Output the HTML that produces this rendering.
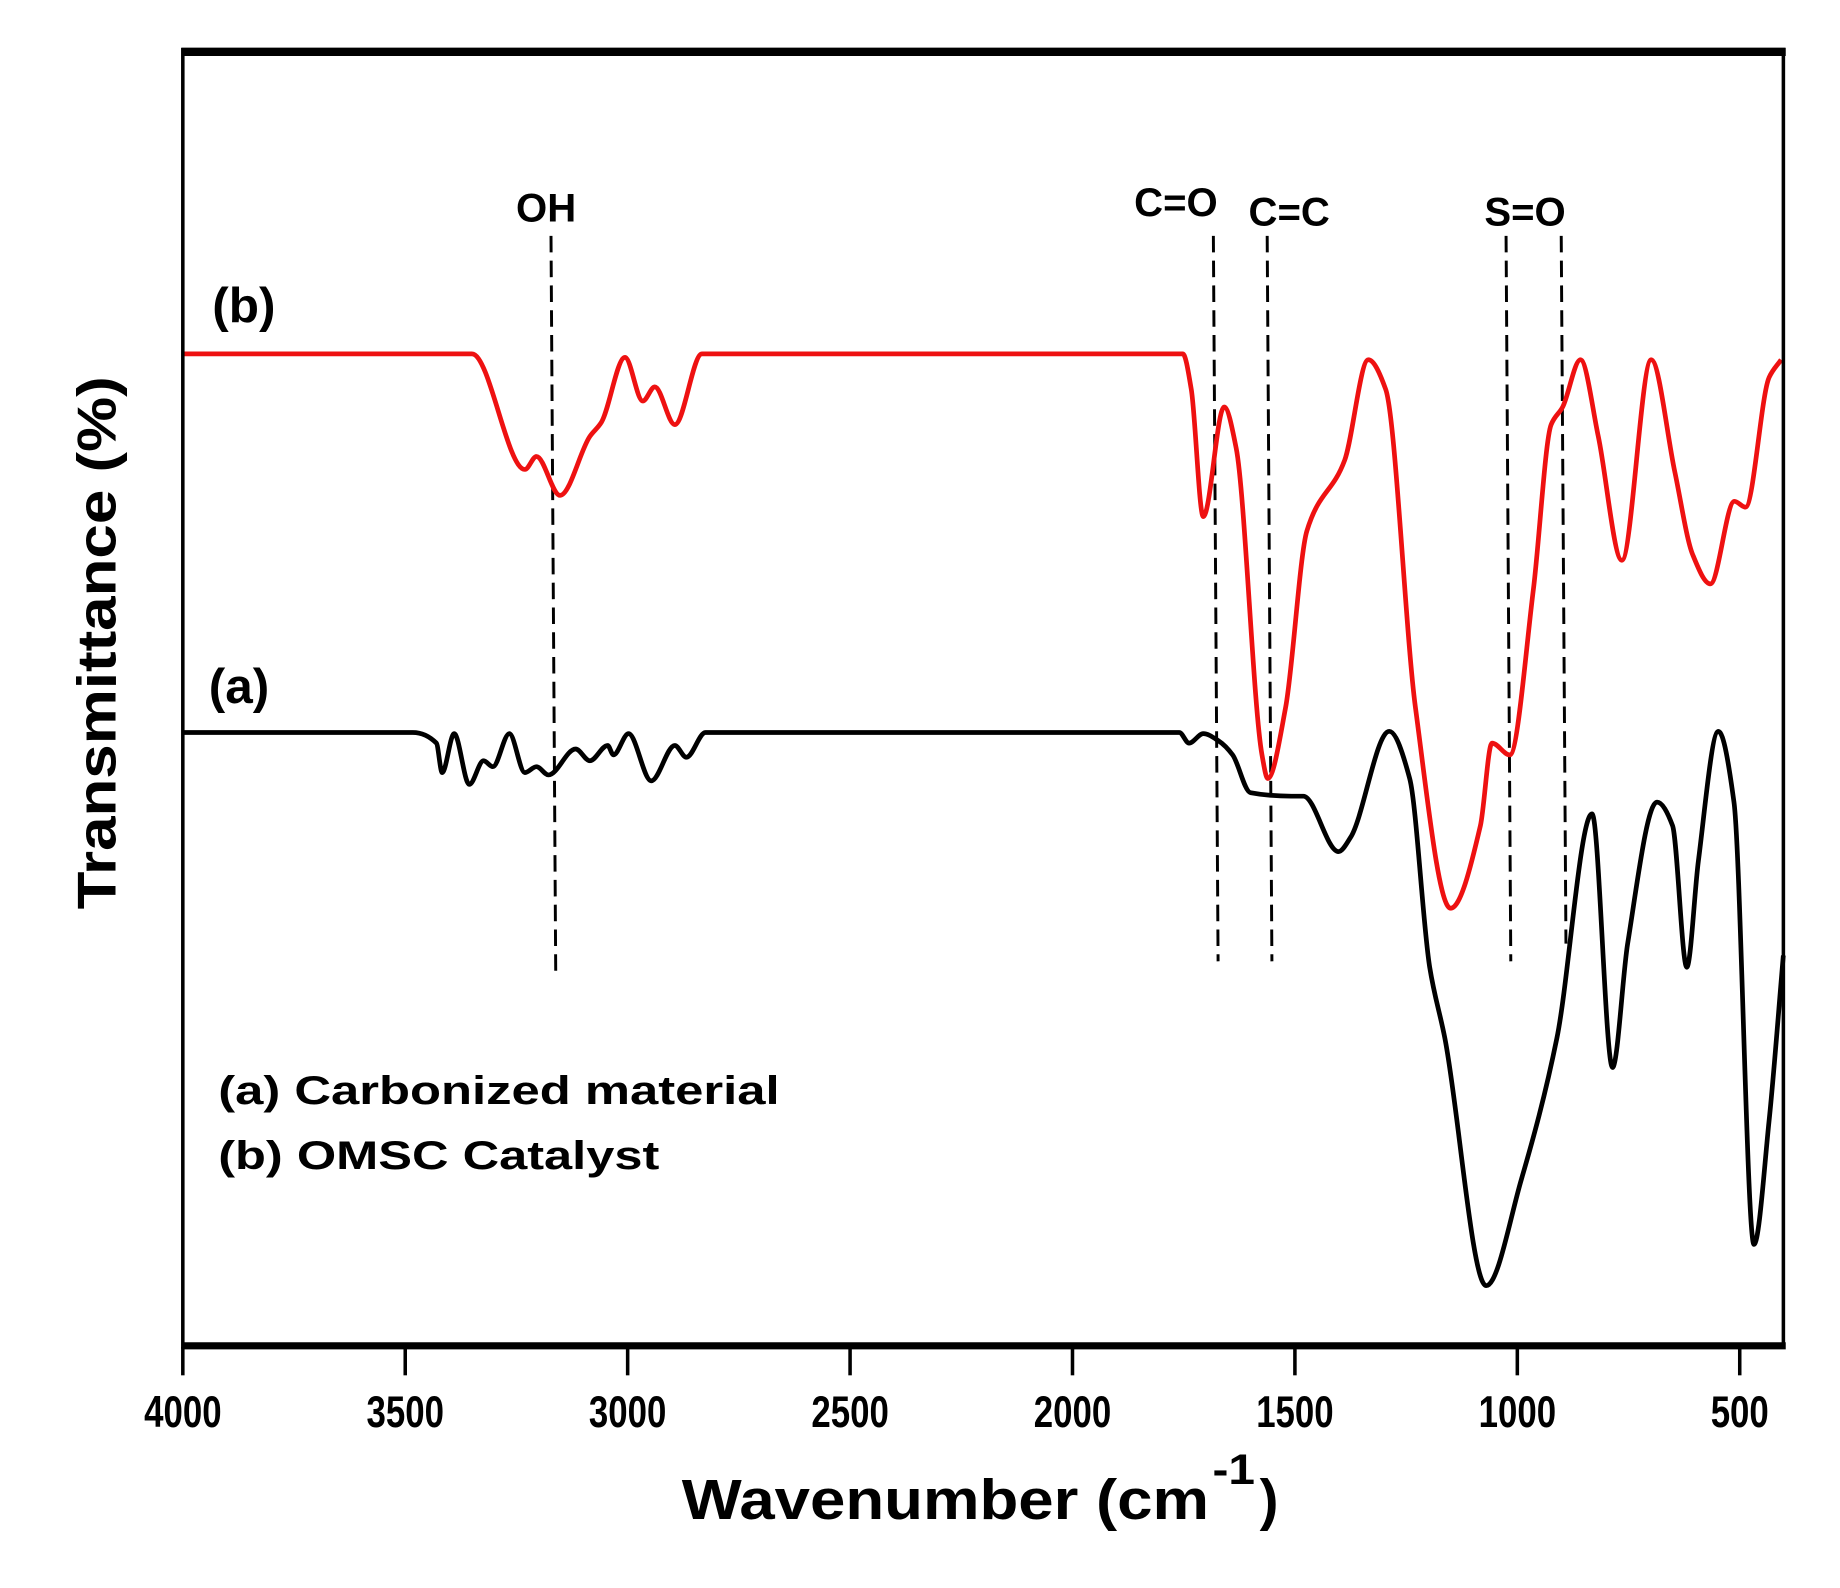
<!DOCTYPE html>
<html><head><meta charset="utf-8"><style>
html,body{margin:0;padding:0;background:#fff;}
svg{display:block;}
text{font-family:"Liberation Sans",sans-serif;font-weight:bold;fill:#000;}
</style></head><body>
<svg id="chart" width="1840" height="1588" viewBox="0 0 1560 1346.3" preserveAspectRatio="none" xmlns="http://www.w3.org/2000/svg">
<g id="plot"></g>
</svg>
<script>
const xTicks = [4000, 3500, 3000, 2500, 2000, 1500, 1000, 500];
const wnA = [4000,3483,3430,3417,3390,3356,3324,3303,3266,3231,3205,3178,3117,3085,3045,3032,2998,2947,2894,2868,2825,1760,1738,1706,1672,1640,1600,1508,1481,1402,1375,1288,1242,1197,1163,1070,991,911,832,786,752,686,651,619,593,548,513,468,434,402];
const tA = [521,521,512,487,520,477,497,492,520,487,492,485,507,497,510,502,520,480,510,500,521,521,512,520,514,502,470,467,467,420,432,522,482,322,262,52,142,262,452,237,342,462,442,322,412,522,462,87,192,332];
const wnB = [4000,3350,3231,3205,3152,3085,3059,3006,2966,2939,2894,2833,1752,1733,1706,1659,1632,1574,1561,1521,1473,1388,1335,1296,1229,1150,1083,1057,1017,964,924,898,858,818,765,699,646,606,566,512,487,434,407];
const tB = [842,842,744,755,722,772,784,839,802,814,782,842,842,812,704,797,762,502,482,542,692,752,837,812,542,372,442,512,502,642,782,797,837,772,667,837,742,672,647,717,712,822,837];
const markers = ["OH","C=O","C=C","S=O",""];
const markerWn = [3167,1678,1557,1020,896];

const NS = "http://www.w3.org/2000/svg";
const L = 155, R = 1512, T = 42, B = 1142;
const X = wn => L + (4000 - wn) * (1475 - 155) / 3500;
const Y = v => B - v;
const g = document.getElementById('plot');
function el(tag, attrs, txt) {
  const e = document.createElementNS(NS, tag);
  for (const k in attrs) e.setAttribute(k, attrs[k]);
  if (txt !== undefined) e.textContent = txt;
  g.appendChild(e);
  return e;
}
// monotone cubic (Fritsch-Carlson) to avoid overshoot
function smoothPath(xs, ys) {
  const px = xs.map(X), py = ys.map(Y), n = px.length;
  const d = [], m = new Array(n);
  for (let i = 0; i < n - 1; i++) d.push((py[i + 1] - py[i]) / (px[i + 1] - px[i]));
  m[0] = d[0]; m[n - 1] = d[n - 2];
  for (let i = 1; i < n - 1; i++) {
    if (d[i - 1] * d[i] <= 0) m[i] = 0;
    else {
      const h0 = px[i] - px[i - 1], h1 = px[i + 1] - px[i];
      const w1 = 2 * h1 + h0, w2 = h1 + 2 * h0;
      m[i] = (w1 + w2) / (w1 / d[i - 1] + w2 / d[i]);
    }
  }
  let s = `M${px[0]},${py[0]}`;
  for (let i = 0; i < n - 1; i++) {
    const h = (px[i + 1] - px[i]) / 3;
    s += ` C${px[i] + h},${py[i] + m[i] * h} ${px[i + 1] - h},${py[i + 1] - m[i + 1] * h} ${px[i + 1]},${py[i + 1]}`;
  }
  return s;
}
markerWn.forEach((w, i) => {
  const x = X(w);
  const ln = el('line', {x1: x - 2, y1: 200, x2: x + 2, y2: i === 0 ? 825 : (i === 4 ? 800 : 815), stroke: '#000', 'stroke-width': 2.5, 'stroke-dasharray': '14,7'});
  
  
});
const labPos = [[463,188],[997,183],[1093,191],[1293,191]];
markers.forEach((m, i) => {
  if (!m) return;
  const t = el('text', {x: labPos[i][0], y: labPos[i][1], 'font-size': 34, 'text-anchor': 'middle'}, m);
  
  
});
const pa = el('path', {d: smoothPath(wnA, tA), fill: 'none', stroke: '#000', 'stroke-width': 4, 'stroke-linejoin': 'round'});


const pb = el('path', {d: smoothPath(wnB, tB), fill: 'none', stroke: '#ee1111', 'stroke-width': 4, 'stroke-linejoin': 'round'});


const fr = el('rect', {x: L, y: T, width: R - L, height: B - T, fill: 'none', stroke: '#000', 'stroke-width': 3});


const tb = el('line', {x1: L - 1, y1: T + 2, x2: R + 2, y2: T + 2, stroke: '#000', 'stroke-width': 7});


const bb = el('line', {x1: L - 1, y1: B - 1, x2: R + 2, y2: B - 1, stroke: '#000', 'stroke-width': 6});


xTicks.forEach(w => {
  const tk = el('line', {x1: X(w), y1: B, x2: X(w), y2: 1166, stroke: '#000', 'stroke-width': 3});
  
  
  const tl = el('text', {x: 0, y: 0, 'font-size': 36, 'text-anchor': 'middle', transform: `translate(${X(w)},1210) scale(0.82,1.05)`}, String(w));
  
  
});
const xt = el('text', {x: 578, y: 1288, 'font-size': 48, textLength: 447, lengthAdjust: 'spacingAndGlyphs'}, 'Wavenumber (cm');


const sup = el('text', {x: 1028, y: 1258, 'font-size': 36, textLength: 36, lengthAdjust: 'spacingAndGlyphs'}, '-1');


const cp = el('text', {x: 1068, y: 1288, 'font-size': 48}, ')');


const yt = el('text', {x: 0, y: 0, 'font-size': 46, 'text-anchor': 'middle', textLength: 452, lengthAdjust: 'spacingAndGlyphs', transform: 'translate(98,545) rotate(-90)'}, 'Transmittance (%)');


const lb = el('text', {x: 180, y: 273, 'font-size': 42}, '(b)');


const la = el('text', {x: 177, y: 596, 'font-size': 42}, '(a)');


const l1 = el('text', {x: 185, y: 936, 'font-size': 34, textLength: 476, lengthAdjust: 'spacingAndGlyphs'}, '(a) Carbonized material');


const l2 = el('text', {x: 185, y: 991, 'font-size': 34, textLength: 374, lengthAdjust: 'spacingAndGlyphs'}, '(b) OMSC Catalyst');


</script>
</body></html>
